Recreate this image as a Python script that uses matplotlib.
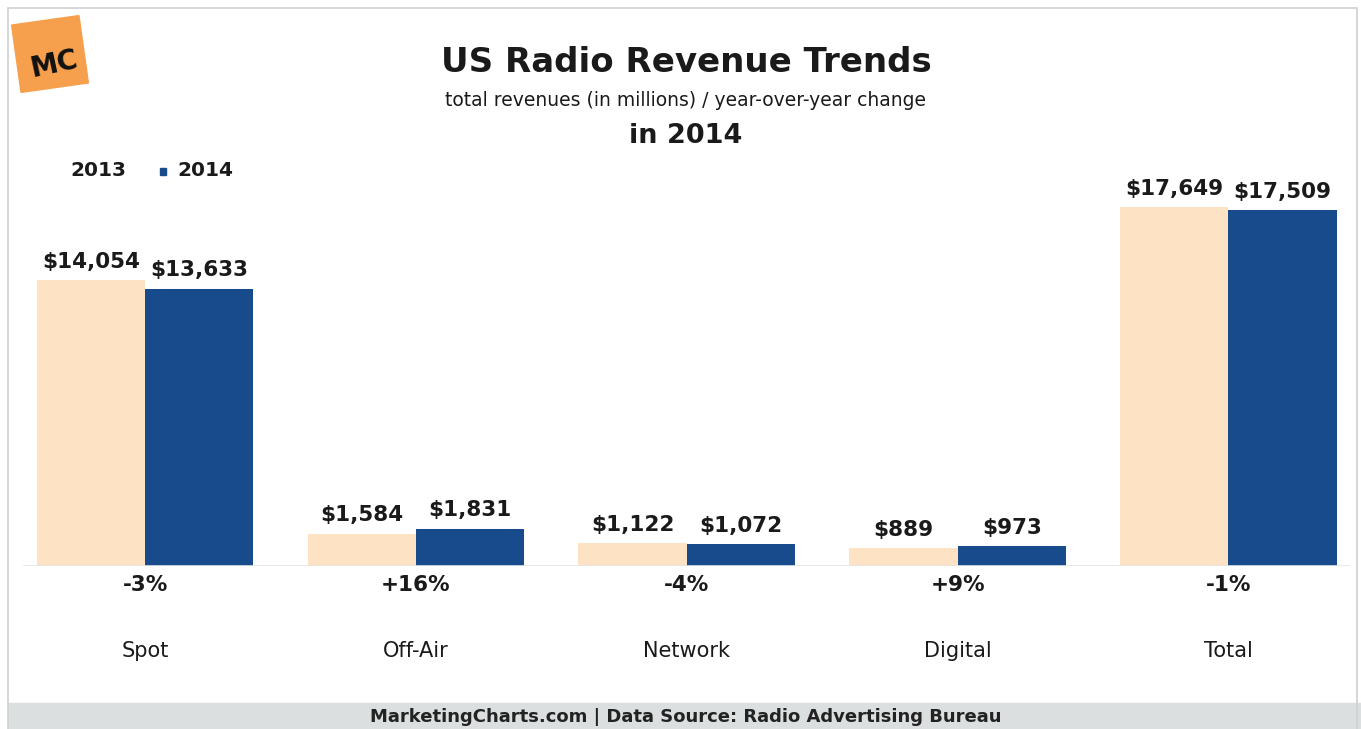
import matplotlib
matplotlib.use('agg')
import matplotlib.pyplot as plt
from matplotlib.patches import Rectangle
from matplotlib.transforms import Affine2D
import numpy as np

# data
categories = ['Spot', 'Off-Air', 'Network', 'Digital', 'Total']
rev_2013 = [14054, 1584, 1122, 889, 17649]
rev_2014 = [13633, 1831, 1072, 973, 17509]
changes = ['-3%', '+16%', '-4%', '+9%', '-1%']

c2013 = '#fde2c3'
c2014 = '#184b8c'
txt = '#1a1a1a'

W, H = 1361, 729
fig = plt.figure(figsize=(W / 100, H / 100), dpi=100)
fig.patch.set_facecolor('white')

# plot area: baseline at y=566px, 20000 at ~159px
ax = fig.add_axes([23.2 / W, (H - 566) / H, (1350.3 - 23.2) / W, (566 - 159.2) / H])
x = np.arange(len(categories))
bw = 0.4
b1 = ax.bar(x - bw / 2, rev_2013, bw, color=c2013, label='2013')
b2 = ax.bar(x + bw / 2, rev_2014, bw, color=c2014, label='2014')
ax.set_xlim(-0.45, 4.45)
ax.set_ylim(0, 20000)
for s in ax.spines.values():
    s.set_visible(False)
ax.set_xticks([])
ax.set_yticks([])
ax.axhline(0, color='#e4e4e4', lw=1.2)

for bars, vals in ((b1, rev_2013), (b2, rev_2014)):
    for b, v in zip(bars, vals):
        ax.annotate(f'${v:,}', (b.get_x() + b.get_width() / 2, v),
                    xytext=(0, 6), textcoords='offset points',
                    ha='center', va='bottom', fontsize=15.5, fontweight='bold', color=txt)

for i, (cat, ch) in enumerate(zip(categories, changes)):
    ax.annotate(ch, (i, 0), xytext=(0, -14), textcoords='offset points',
                ha='center', va='center', fontsize=15.5, fontweight='bold', color=txt)
    ax.annotate(cat, (i, 0), xytext=(0, -61), textcoords='offset points',
                ha='center', va='center', fontsize=15, color=txt)

# titles
fig.text(686 / W, 1 - 63 / H, 'US Radio Revenue Trends', ha='center', va='center',
         fontsize=24.5, fontweight='bold', color=txt)
fig.text(686 / W, 1 - 100 / H, 'total revenues (in millions) / year-over-year change',
         ha='center', va='center', fontsize=13.5, color=txt)
fig.text(686 / W, 1 - 136 / H, 'in 2014', ha='center', va='center',
         fontsize=19.5, fontweight='bold', color=txt)

# legend
fig.text(98 / W, 1 - 171 / H, '2013', ha='center', va='center', fontsize=14.5, fontweight='bold', color=txt)
fig.patches.append(Rectangle((160 / W, 1 - 175 / H), 6 / W, 7 / H, transform=fig.transFigure,
                             color=c2014))
fig.text(205 / W, 1 - 171 / H, '2014', ha='center', va='center', fontsize=14.5, fontweight='bold', color=txt)

# MC logo (pixel coords, rotated a little)
logo = Rectangle((16, H - 88), 68, 68, color='#f6a04d')
logo.set_transform(Affine2D().rotate_deg_around(50, H - 54, 8))
fig.patches.append(logo)
fig.text(54 / W, 1 - 64 / H, 'MC', ha='center', va='center', fontsize=20, fontweight='bold',
         color='#111111', rotation=12)

# footer band
fig.patches.append(Rectangle((8 / W, 0), (W - 8) / W, 26 / H, transform=fig.transFigure,
                             color='#dcdfdf'))
fig.text(686 / W, 12 / H, 'MarketingCharts.com | Data Source: Radio Advertising Bureau',
         ha='center', va='center', fontsize=13, fontweight='bold', color='#222222')

# outer frame
fig.patches.append(Rectangle((8 / W, -0.01), (W - 12) / W, 1 - 8 / H + 0.01, transform=fig.transFigure,
                             fill=False, edgecolor='#d0d0d0', lw=1.2))

fig.savefig('out.png', dpi=100)
